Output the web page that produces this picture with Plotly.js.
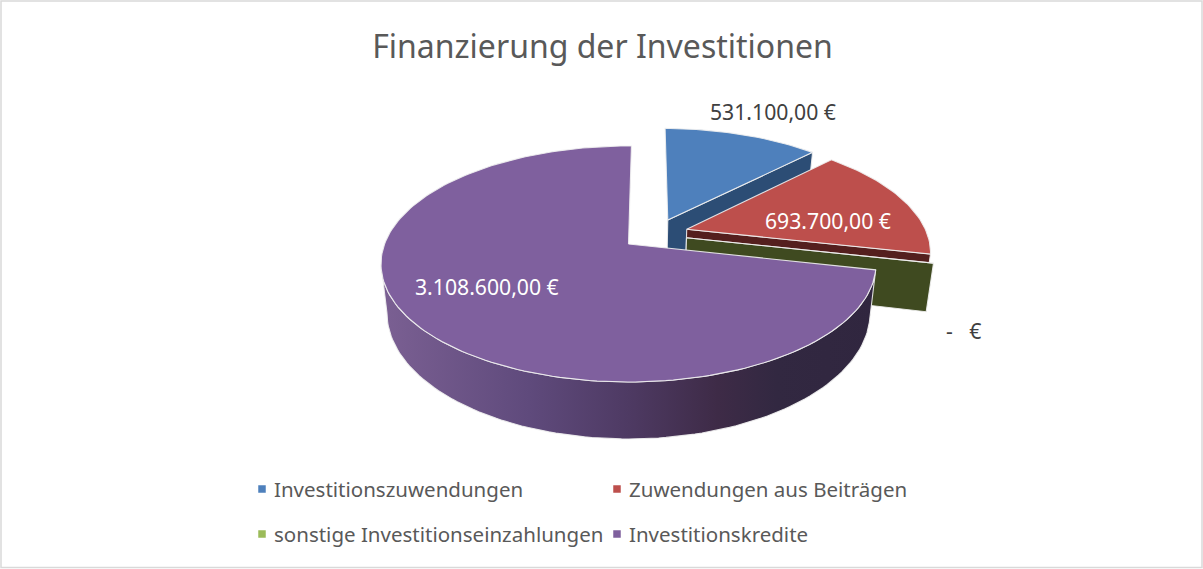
<!DOCTYPE html>
<html><head><meta charset="utf-8">
<script src="https://cdn.plot.ly/plotly-3.0.1.min.js"></script>
<style>html,body{margin:0;padding:0;background:#fff}#c{width:1203px;height:569px}</style></head>
<body><div id="c"></div>
<script>
// ---- data ----
const categories = ["Investitionszuwendungen", "Zuwendungen aus Beiträgen", "sonstige Investitionseinzahlungen", "Investitionskredite"];
const values = [531100, 693700, 0, 3108600];
const valueLabels = ["531.100,00 €", "693.700,00 €", "-   €", "3.108.600,00 €"];
const topColors = ["#4e80bc", "#bd4f4c", "#9bbb59", "#7f609e"];
const wallColors = ["#2c4d75", "#541f1e", "#3f4a20", "#3b2d4f"];
const titleText = "Finanzierung der Investitionen";

// ---- perspective pie geometry (Excel-like 3D pie) ----
const CX = 628.5, CY = 244, A = 114.6, B = 243.9, K = 0.1695, T = 47.3, SHRINK = 0.024;
const START = 89.2;
const pulls = [[0.167, 0.217], [0.244, 0.131], [0.24, 0.055], [0, 0]];
const FONT = '"Noto Sans", "Open Sans", sans-serif';

function projTop(X, Y) { const w = 1 + K * Y; return [CX + B * X / w, CY - A * Y / w]; }
function projBot(X, Y) {
  const w = 1 + K * Y, q = projTop(X, Y);
  return [CX + (q[0] - CX) * (1 - SHRINK), q[1] + T / w];
}
const rad = d => d * Math.PI / 180;
const total = values.reduce((a, b) => a + b, 0);
let acc = START;
const slices = values.map((v, i) => {
  const a0 = acc, a1 = acc - v / total * 360; acc = a1;
  return { a0, a1, ox: pulls[i][0], oy: pulls[i][1] };
});
function rim(s, a) { return [s.ox + Math.cos(rad(a)), s.oy + Math.sin(rad(a))]; }
function arc(s, a0, a1, fn) {
  const n = Math.max(2, Math.ceil(Math.abs(a1 - a0) / 1.5)), out = [];
  for (let j = 0; j <= n; j++) { const r = rim(s, a0 + (a1 - a0) * j / n); out.push(fn(r[0], r[1])); }
  return out;
}
function poly(pts, fill, name, extra) {
  return Object.assign({
    type: "scatter", mode: "lines", x: pts.map(q => q[0]).concat(pts[0][0]), y: pts.map(q => q[1]).concat(pts[0][1]),
    fill: "toself", fillcolor: fill, line: { color: "rgba(240,240,240,0.9)", width: 1.1 },
    name: name, showlegend: false, hoverinfo: "name"
  }, extra || {});
}
function topFace(i) {
  const s = slices[i];
  return poly([projTop(s.ox, s.oy)].concat(arc(s, s.a0, s.a1, projTop)), topColors[i], categories[i]);
}
function cutFace(i, a) {
  const s = slices[i], r = rim(s, a);
  return poly([projTop(s.ox, s.oy), projTop(r[0], r[1]), projBot(r[0], r[1]), projBot(s.ox, s.oy)], wallColors[i], categories[i]);
}
const ps = slices[3];
const TANGENT = -170.25; // left silhouette of the perspective ellipse
const wallTop = arc(ps, ps.a0, TANGENT, projTop);
const wallBot = arc(ps, TANGENT, ps.a0, projBot);
const purpleWall = poly(wallTop.concat(wallBot), wallColors[3], categories[3], {
  fillgradient: { type: "horizontal", colorscale: [
    [0, "#7b6093"], [0.3, "#5f4a7c"], [0.5, "#4e3a63"], [0.68, "#3e2b47"], [0.8, "#322841"], [1, "#30263f"]] }
});

const traces = [
  cutFace(0, slices[0].a1), topFace(0),
  cutFace(1, slices[1].a1), topFace(1),
  cutFace(2, slices[2].a1), topFace(2),
  purpleWall, topFace(3)
];

// legend marks
const legendX = [262, 617, 262, 617], legendY = [489, 489, 534, 534];
categories.forEach((c, i) => traces.push({
  type: "scatter", mode: "markers", x: [legendX[i]], y: [legendY[i]], name: c, showlegend: false, hoverinfo: "name",
  marker: { symbol: "square", size: 7.5, color: topColors[i] }
}));

const annotations = categories.map((c, i) => ({
  x: legendX[i] + 10, y: legendY[i], xref: "x", yref: "y", text: c, showarrow: false, xanchor: "left", yanchor: "middle",
  font: { family: FONT, size: 20.5, color: "#595959" }
}));
const labelX = [773, 828, 963, 487], labelY = [111, 220, 330, 286], labelCol = ["#404040", "#ffffff", "#404040", "#ffffff"];
valueLabels.forEach((t, i) => annotations.push({
  x: labelX[i], y: labelY[i], xref: "x", yref: "y", text: t, showarrow: false, xanchor: "center", yanchor: "middle",
  font: { family: FONT, size: 21.2, color: labelCol[i] }
}));

const layout = {
  width: 1203, height: 569, margin: { l: 0, r: 0, t: 0, b: 0 }, paper_bgcolor: "#fff", plot_bgcolor: "#fff", showlegend: false,
  title: { text: titleText, x: 602.5 / 1203, xanchor: "center", y: 1 - 47 / 569, yanchor: "middle", font: { family: FONT, size: 32, color: "#595959" } },
  xaxis: { range: [0, 1203], visible: false, fixedrange: true },
  yaxis: { range: [569, 0], visible: false, fixedrange: true },
  annotations,
  shapes: [{ type: "rect", xref: "x", yref: "y", x0: 1, y0: 1, x1: 1202, y1: 567.5, line: { color: "#d9d9d9", width: 1.5 } }]
};
Plotly.newPlot("c", traces, layout, { displayModeBar: false, staticPlot: true });
</script></body></html>
